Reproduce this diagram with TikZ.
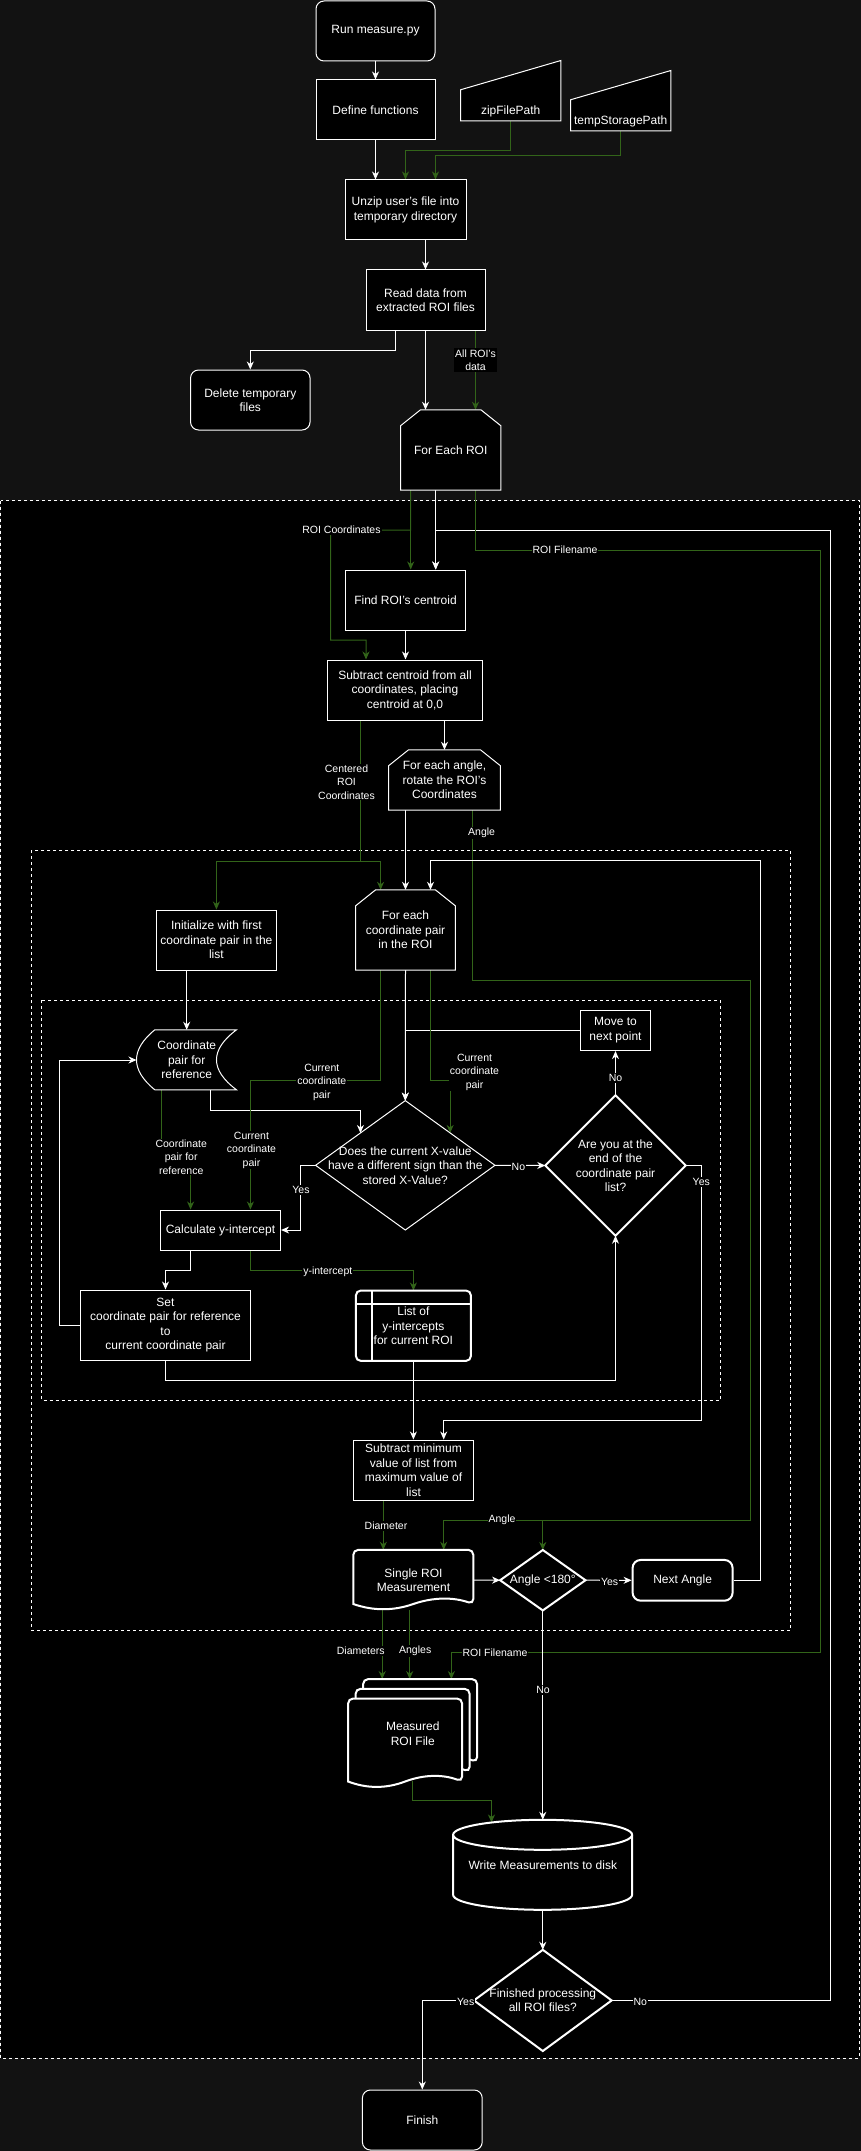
\documentclass[tikz,border=0pt]{standalone}
\usepackage{fontspec}
\setmainfont{Liberation Sans}
\usetikzlibrary{arrows.meta,calc}

\definecolor{grn}{RGB}{50,100,25}
\definecolor{pagebg}{RGB}{18,18,18}

\pgfdeclarelayer{back}
\pgfdeclarelayer{edges}
\pgfdeclarelayer{outlines}
\pgfsetlayers{back,edges,outlines,main}

\newcommand\nodefont{\fontsize{12}{14.5}\selectfont}
\newcommand\lblfont{\fontsize{10.5}{13.5}\selectfont}

% loop-limit outline (chamfered top corners) around a frame node
\newcommand\looplimit[1]{%
  \draw[outl] (#1.south west) -- ([yshift=-16pt]#1.north west) -- ([xshift=20pt]#1.north west)
    -- ([xshift=-20pt]#1.north east) -- ([yshift=-16pt]#1.north east) -- (#1.south east) -- cycle;}
% diamond outline through the four side midpoints of a frame node
\newcommand\decision[1]{%
  (#1.north) -- (#1.east) -- (#1.south) -- (#1.west) -- cycle}
% document outline: width, height, wave depth (local coordinates, y downwards)
\newcommand\docpath[3]{%
  (0,{#2-0.5*#3}) [rounded corners=5pt] -- (0,0) -- (#1,0) -- (#1,{#2-0.5*#3}) [sharp corners]
  .. controls ({0.8333*#1},{#2-1.1*#3}) and ({0.6667*#1},{#2-1.1*#3}) .. ({0.5*#1},{#2-0.5*#3})
  .. controls ({0.3333*#1},{#2+0.1*#3}) and ({0.1667*#1},{#2+0.1*#3}) .. (0,{#2-0.5*#3}) -- cycle}

\tikzset{
  flowtip/.tip={Stealth[length=8pt,width=7pt,inset=2.5pt]},
  box/.style={draw=white, fill=black, text=white, line width=1pt, align=center,
    font=\nodefont, inner sep=1pt},
  rbox/.style={box, rounded corners=8pt},
  shp/.style={text=white, align=center, font=\nodefont, inner sep=1pt},
  outl/.style={draw=white, fill=black, line width=1pt},
  outlT/.style={draw=white, fill=black, line width=2pt},
  wire/.style={draw=white, line width=1pt, -{flowtip}},
  gwire/.style={draw=grn, line width=1pt, -{flowtip}},
  lbl/.style={fill=black, text=white, align=center, font=\lblfont, inner sep=1pt},
  frame/.style={draw=white, line width=1pt, dash pattern=on 3pt off 3pt},
}

\begin{document}
\begin{tikzpicture}[x=1pt, y=-1pt]
\useasboundingbox (0,0) rectangle (861,2151);

% ---------- page and group frames ----------
\begin{pgfonlayer}{back}
  \fill[pagebg] (0,0) rectangle (861,2151);
  \fill[black] (0.5,500.7) rectangle (859.5,2058);
  \draw[frame] (0.5,500.7) rectangle (859.5,2058);
  \draw[frame] (31.3,850) rectangle (790.8,1630);
  \draw[frame] (41.2,1000.3) rectangle (720.5,1400);
\end{pgfonlayer}

% ---------- nodes ----------
\node[rbox, minimum width=119pt, minimum height=60pt] (run) at (375.5,31) {Run measure.py};
\node[box, minimum width=119pt, minimum height=60pt] (define) at (375.5,110) {Define functions};
\node[shp, minimum width=100pt, minimum height=60pt,
  label={[shp,yshift=-21pt]center:zipFilePath}] (zip) at (510.7,90.7) {};
\node[shp, minimum width=100pt, minimum height=60pt,
  label={[shp,yshift=-20.3pt]center:tempStoragePath}] (temp) at (620.7,100.7) {};
\node[box, minimum width=121pt, minimum height=60pt] (unzip) at (405.5,210) {Unzip user's file into\\temporary directory};
\node[box, minimum width=119pt, minimum height=60pt] (read) at (425.5,300) {Read data from\\extracted ROI files};
\node[rbox, minimum width=119.5pt, minimum height=60pt] (delete) at (250.3,400) {Delete temporary\\files};
\node[shp, minimum width=100pt, minimum height=80pt] (foreach) at (450.7,450) {For Each ROI};
\node[box, minimum width=120.3pt, minimum height=60pt] (find) at (405.5,600) {Find ROI's centroid};
\node[box, minimum width=155.4pt, minimum height=60pt] (subtract) at (405,690) {Subtract centroid from all\\coordinates, placing\\centroid at 0,0};
\node[shp, minimum width=111.5pt, minimum height=60pt] (angle) at (444.5,780) {For each angle,\\rotate the ROI's\\Coordinates};
\node[box, minimum width=119.7pt, minimum height=60pt] (init) at (216.4,940) {Initialize with first\\coordinate pair in the\\list};
\node[shp, minimum width=99.3pt, minimum height=80pt] (coordloop) at (405.5,930) {For each\\coordinate pair\\in the ROI};
\node[shp, minimum width=100pt, minimum height=60pt] (ref) at (186.7,1060) {Coordinate\\pair for\\reference};
\node[box, line width=1.5pt, minimum width=70.3pt, minimum height=40pt] (move) at (615.5,1030.3) {Move to\\next point};
\node[shp, minimum width=179pt, minimum height=129pt] (sign) at (405.3,1165.3) {Does the current X-value\\have a different sign than the\\stored X-Value?};
\node[shp, minimum width=140pt, minimum height=140pt] (endq) at (615.5,1165.5) {Are you at the\\end of the\\coordinate pair\\list?};
\node[box, minimum width=120.2pt, minimum height=40pt] (calc) at (220.5,1230) {Calculate y-intercept};
\node[box, minimum width=169.7pt, minimum height=70pt] (set) at (165.5,1325) {Set\\coordinate pair for reference\\to\\current coordinate pair};
\node[shp, minimum width=114.7pt, minimum height=70pt] (list) at (413.4,1325.7) {List of\\y-intercepts\\for current ROI};
\node[box, minimum width=119.8pt, minimum height=60pt] (minmax) at (413.5,1470) {Subtract minimum\\value of list from\\maximum value of\\list};
\node[shp, minimum width=120pt, minimum height=60pt] (single) at (413.5,1580) {Single ROI\\Measurement};
\node[shp, minimum width=85pt, minimum height=60pt] (lt180) at (542.8,1580.2) {Angle <180°};
\node[rbox, line width=2pt, minimum width=100pt, minimum height=40.7pt] (next) at (682.6,1580.3) {Next Angle};
\node[shp, minimum width=129pt, minimum height=108.4pt] (measured) at (412.8,1733.5) {Measured\\ROI File};
\node[shp, minimum width=179pt, minimum height=90pt] (write) at (542.8,1865) {Write Measurements to disk};
\node[shp, minimum width=137.3pt, minimum height=100.8pt] (finished) at (542.8,2000.4) {Finished processing\\all ROI files?};
\node[rbox, minimum width=119.8pt, minimum height=60pt] (finish) at (422.3,2120) {Finish};

% ---------- drawn outlines of the special shapes ----------
\begin{pgfonlayer}{outlines}
  % manual inputs
  \draw[outl] (zip.south west) -- ([yshift=-29.3pt]zip.north west) -- (zip.north east) -- (zip.south east) -- cycle;
  \draw[outl] (temp.south west) -- ([yshift=-29.3pt]temp.north west) -- (temp.north east) -- (temp.south east) -- cycle;
  % loop limits
  \looplimit{foreach}
  \looplimit{angle}
  \looplimit{coordloop}
  % stored data
  \begin{scope}[shift={(ref.north west)}]
    \draw[outl] (18.3,0) -- (100,0) .. controls (73.3,20) and (73.3,40) .. (100,60)
      -- (18.3,60) .. controls (-6.1,40) and (-6.1,20) .. (18.3,0) -- cycle;
  \end{scope}
  % decisions
  \draw[outl] \decision{sign};
  \draw[outlT] \decision{endq};
  \draw[outlT] \decision{lt180};
  \draw[outlT] \decision{finished};
  % internal storage
  \draw[outlT, rounded corners=5pt] (list.south west) rectangle (list.north east);
  \draw[white, line width=2pt] ([xshift=15.7pt]list.north west) -- ([xshift=15.7pt]list.south west);
  \draw[white, line width=2pt] ([yshift=-13.3pt]list.north west) -- ([yshift=-13.3pt]list.north east);
  % documents
  \begin{scope}[shift={(single.north west)}]
    \draw[outlT] \docpath{120}{60}{11.6};
  \end{scope}
  \begin{scope}[shift={(measured.north west)}]
    \draw[outlT, shift={(15,0)}] \docpath{114}{89}{12};
    \draw[outlT, shift={(7.5,9.7)}] \docpath{114}{89}{12};
    \draw[outlT, shift={(0,19.4)}] \docpath{114}{89}{12};
  \end{scope}
  % disk
  \begin{scope}[shift={(write.north west)}]
    \draw[outlT] (0,15) -- (0,75) arc[start angle=180, end angle=360, x radius=89.5pt, y radius=15pt]
      -- (179,15) arc[start angle=0, end angle=180, x radius=89.5pt, y radius=15pt] -- cycle;
    \draw[white, line width=2pt] (0,15) arc[start angle=180, end angle=360, x radius=89.5pt, y radius=15pt];
  \end{scope}
\end{pgfonlayer}

% ---------- connectors ----------
\begin{pgfonlayer}{edges}
  \draw[wire] (run.south) -- (define.north);
  \draw[wire] (define.south) -- (define.south |- unzip.north);
  \draw[gwire] (zip.south) -- ++(0,30) -| (unzip.north);
  \draw[gwire] (temp.south) -- ++(0,25) -| ([xshift=30pt]unzip.north);
  \draw[wire] (unzip.south -| read.north) -- (read.north);
  \draw[wire] ([xshift=-30.5pt]read.south) -- ++(0,20) -| (delete.north);
  \draw[wire] (read.south) -- (read.south |- foreach.north);
  \draw[gwire] ([xshift=50pt]read.south) -- ([xshift=50pt]read.south |- foreach.north);

  \draw[gwire] ([xshift=-40pt]foreach.south) -- ([xshift=-40pt]foreach.south |- find.north);
  \draw[gwire] ([xshift=-40pt]foreach.south) -- ++(0,40) -- (330.6,530) -- (330.6,640)
    -| ([xshift=-39pt]subtract.north);
  \draw[wire] ([xshift=-15pt]foreach.south) -- ([xshift=-15pt]foreach.south |- find.north);
  \draw[wire] (finished.east) -| (830.3,530) -| ([xshift=30.2pt]find.north);
  \draw[gwire] ([xshift=25pt]foreach.south) |- (820.4,550) -- (820.4,1652)
    -| ([xshift=38.6pt]measured.north);

  \draw[wire] (find.south) -- (find.south |- subtract.north);
  \draw[wire] (subtract.south -| angle.north) -- (angle.north);
  \draw[gwire] ([xshift=-44.2pt]subtract.south) -- ++(0,140.7) -| (init.north);
  \draw[gwire] ([xshift=-44.2pt]subtract.south) -- ++(0,140.7) -| ([xshift=-24.9pt]coordloop.north);
  \draw[wire] (coordloop.north |- angle.south) -- (coordloop.north);
  \draw[gwire] ([xshift=28.3pt]angle.south) |- (750,980) -- (750,1520) -| ([xshift=30.2pt]single.north);
  \draw[gwire] ([xshift=28.3pt]angle.south) |- (750,980) -- (750,1520) -| (lt180.north);

  \draw[wire] (init.south -| ref.north) -- (ref.north);
  \draw[wire] (coordloop.south) -- (sign.north);
  \draw[wire] (move.west) -| (sign.north);
  \draw[wire] ([xshift=23.6pt]ref.south) -- ++(0,20.3) -| ($(sign.north)!.5!(sign.west)$);
  \draw[gwire] ([xshift=-24.9pt]coordloop.south) -- ++(0,110) -| ([xshift=29.9pt]calc.north);
  \draw[gwire] ([xshift=25pt]coordloop.south) -- ++(0,110) -| ($(sign.north)!.5!(sign.east)$);
  \draw[gwire] ([xshift=-25.2pt]ref.south) -- ++(0,67) -| ([xshift=-29.9pt]calc.north);
  \draw[wire] (sign.west) -- ++(-15,0) |- (calc.east);
  \draw[wire] (sign.east) -- (endq.west);
  \draw[wire] (endq.north) -- (move.south);
  \draw[wire] (endq.east) -- ++(15.4,0) -- ++(0,254.8) -| ([xshift=30.2pt]minmax.north);
  \draw[wire] ([xshift=-29.9pt]calc.south) -- ++(0,20.3) -| (set.north);
  \draw[gwire] ([xshift=29.9pt]calc.south) -- ++(0,20.3) -| (list.north);
  \draw[wire] (set.west) -- ++(-20.3,0) |- (ref.west);
  \draw[wire] (set.south) -- ++(0,20.3) -| (endq.south);
  \draw[wire] (list.south) -- (list.south |- minmax.north);

  \draw[gwire] ([xshift=-30.2pt]minmax.south) -- ([xshift=-30.2pt]minmax.south |- single.north);
  \draw[wire] (single.east) -- (lt180.west);
  \draw[wire] (lt180.east) -- (next.west);
  \draw[wire] (next.east) -| (760,860.7) -| ([xshift=25pt]coordloop.north);
  \draw[wire] (lt180.south) -- (lt180.south |- write.north);
  \draw[gwire] ([xshift=-31.3pt]single.south) -- ([xshift=-31.3pt]single.south |- measured.north);
  \draw[gwire] ([xshift=-3.8pt]single.south) -- ([xshift=-3.8pt]single.south |- measured.north);
  \draw[gwire] ([yshift=7pt]measured.south) -- ++(0,19.5) -| ([xshift=-51.3pt,yshift=-2.7pt]write.north);
  \draw[wire] (write.south) -- (finished.north);
  \draw[wire] (finished.west) -| (finish.north);
\end{pgfonlayer}

% ---------- connector labels ----------
\node[lbl] (l-allroi) at (475.5,360) {All ROI's\\data};
\node[lbl] (l-roicoord) at (341.5,530) {ROI Coordinates};
\node[lbl] (l-roifile) at (565,550) {ROI Filename};
\node[lbl] (l-centered) at (346.5,782) {Centered\\ROI\\Coordinates};
\node[lbl] (l-angle1) at (481.6,833) {Angle};
\node[lbl] (l-cur1) at (321.8,1082) {Current\\coordinate\\pair};
\node[lbl] (l-cur2) at (251.5,1150) {Current\\coordinate\\pair};
\node[lbl] (l-cur3) at (474.5,1072) {Current\\coordinate\\pair};
\node[lbl] (l-ref) at (181.2,1157) {Coordinate\\pair for\\reference};
\node[lbl] (l-yes1) at (301,1190) {Yes};
\node[lbl] (l-no1) at (518.4,1167) {No};
\node[lbl] (l-no2) at (615.5,1078) {No};
\node[lbl] (l-yes2) at (701.3,1182) {Yes};
\node[lbl] (l-yint) at (327.8,1272) {y-intercept};
\node[lbl] (l-diam) at (386,1526) {Diameter};
\node[lbl] (l-angle2) at (502,1520) {Angle};
\node[lbl] (l-yes3) at (609.6,1582) {Yes};
\node[lbl] (l-diams) at (360.8,1651) {Diameters};
\node[lbl] (l-angles) at (415.2,1651) {Angles};
\node[lbl] (l-roifile2) at (495,1653) {ROI Filename};
\node[lbl] (l-no3) at (543,1690) {No};
\node[lbl] (l-yes4) at (465.7,2002) {Yes};
\node[lbl] (l-no4) at (640.3,2002) {No};
\end{tikzpicture}
\end{document}
